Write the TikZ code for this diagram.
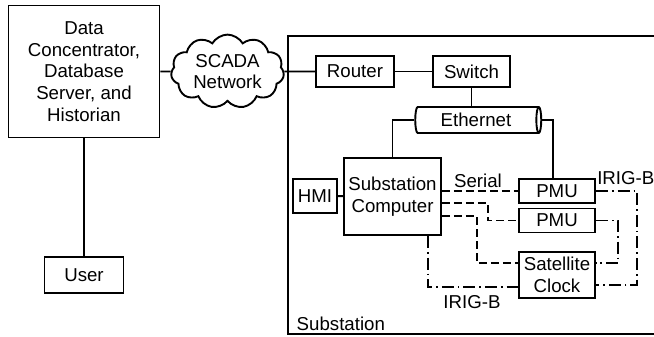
\documentclass[tikz,border=0pt]{standalone}
\usepackage{fontspec}
\setmainfont{Liberation Sans}
\usetikzlibrary{shapes,shapes.geometric,shapes.symbols,positioning,calc}
\tikzset{
    block/.style={draw, line width=0.5mm, align=center, inner sep=1pt},
    link/.style={line width=0.5mm},
    serial/.style={line width=0.5mm, dash pattern=on 6pt off 3pt},
    irig/.style={line width=0.5mm, dash pattern=on 9pt off 3pt on 1.2pt off 3pt}
}
\begin{document}
\begin{tikzpicture}[x=0.75pt, y=-0.75pt, font=\fontsize{14}{16.3}\selectfont]
    \useasboundingbox (0,0) rectangle (654,336);
    \clip (0,0) rectangle (654,336);

    \draw[
        line width=0.5mm
    ] (288,36) rectangle (700,334);
    \node[anchor=base west] (sublabel) at (292,330) {Substation};

    \node[block, minimum width=113.25pt, minimum height=99pt] (data) at (84,71.5) {Data\\Concentrator,\\Database\\Server, and\\Historian};
    \node[block, minimum width=59.25pt, minimum height=27pt] (user) at (84,275) {User};
    \node[draw, line width=0.5mm, cloud, cloud puffs=11, cloud puff arc=120, aspect=1.6, align=center, inner sep=0pt, minimum width=84.75pt, minimum height=54.75pt] (scada) at (227.5,71.5) {SCADA\\Network};
    \node[block, minimum width=58.5pt, minimum height=23.25pt] (router) at (355,71.5) {Router};
    \node[block, minimum width=57.75pt, minimum height=23.25pt] (switch) at (471.5,71.5) {Switch};
    \node[draw, line width=0.5mm, cylinder, aspect=0.3, minimum width=19.5pt, minimum height=94.5pt, inner sep=1pt] (ethernet) at (476,120) {Ethernet};
    \node[block, minimum width=72.75pt, minimum height=57.75pt] (computer) at (392.5,196.5) {Substation\\Computer};
    \node[block, minimum width=33pt, minimum height=25.5pt] (hmi) at (315,196) {HMI};
    \node[block, minimum width=57pt, minimum height=18pt] (pmu1) at (557,191) {PMU};
    \node[block, minimum width=57pt, minimum height=18pt] (pmu2) at (557,220.5) {PMU};
    \node[block, minimum width=57pt, minimum height=34.5pt] (clock) at (557,275) {Satellite\\Clock};

    \node (seriallabel) at (478,181) {Serial};
    \node[anchor=west, inner sep=0pt] (irigtop) at (597,178) {IRIG-B};
    \node (irigbottom) at (472,302) {IRIG-B};

    \draw[link] (data) -- (user);
    \draw[link] (data.east) -- (scada.west);
    \draw[link] (scada.east) -- (router.west);
    \draw[link] (router) -- (switch);
    \draw[link] (switch.south) -- (switch.south |- ethernet.north);
    \draw[link] (ethernet.west) -| (computer.north);
    \draw[link] (ethernet.east) -| ($(pmu1.north)+(-4,0)$);
    \draw[link] (hmi) -- (computer);

    \draw[serial] (computer.east |- pmu1.west) -- (pmu1.west);
    \draw[serial] ($(computer.east)+(0,6.5)$) -- ++(46,0) |- (pmu2.west);
    \draw[serial] ($(computer.east)+(0,19.5)$) -- ++(35,0) |- ($(clock.west)+(0,-12)$);

    \draw[irig] ($(computer.south)+(35.5,0)$) |- ($(clock.west)+(0,12)$);
    \draw[irig] (pmu1.east) -- ++(41,0) |- ($(clock.east)+(0,10)$);
    \draw[irig] (pmu2.east) -- ++(22,0) |- ($(clock.east)+(0,-12)$);
\end{tikzpicture}
\end{document}
